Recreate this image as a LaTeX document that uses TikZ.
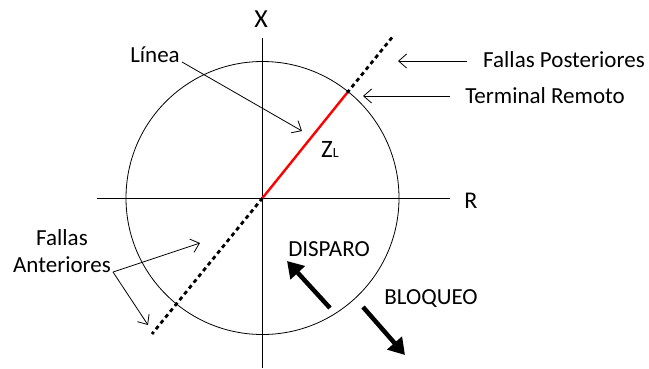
\documentclass[tikz,border=0pt]{standalone}
\usepackage{fontspec}
\setmainfont{Carlito}
\usetikzlibrary{arrows.meta}
\begin{document}
\begin{tikzpicture}[x=1pt,y=-1pt,
  lbl/.style={font=\fontsize{23}{27}\selectfont, inner sep=0pt, anchor=base},
  axlbl/.style={font=\fontsize{26}{30}\selectfont, inner sep=0pt, anchor=base},
  thin/.style={line width=0.8pt},
  pointer/.style={line width=0.8pt,-{Straight Barb[length=8pt,width=14pt]}},
  bigarrow/.style={line width=4.5pt,-{Triangle[length=16pt,width=19pt]}},
  dotline/.style={line width=2.8pt,dash pattern=on 4pt off 3.5pt}]
\useasboundingbox (0,0) rectangle (649,368);
% circle
\draw[thin] (262.5,198) circle [radius=136.5];
% axes
\coordinate (xtop) at (262.5,38);
\coordinate (xbot) at (262.5,368);
\coordinate (rl) at (97,198);
\coordinate (rr) at (450,198);
\coordinate (o) at (262.5,198);
\draw[thin] (xtop) -- (xbot);
\draw[thin] (rl) -- (rr);
\node[axlbl] (X) at (261,27) {X};
\node[lbl, font=\fontsize{24}{28}\selectfont] (R) at (471,208) {R};
% line
\coordinate (term) at (347,93);
\coordinate (ext) at (394,35);
\coordinate (back) at (152,334);
\draw[dotline] (term) -- (ext);
\draw[dotline] (o) -- (back);
\draw[red, line width=2.4pt] (o) -- (term);
\node[lbl, anchor=base west, font=\fontsize{25}{29}\selectfont] (ZL) at (321,157) {Z\raisebox{-0.5pt}{\fontsize{14}{16}\selectfont L}};
% labels
\node[lbl] (linea) at (155,62) {Línea};
\coordinate (lineaS) at (182,62);
\coordinate (lineaE) at (302,131);
\draw[pointer] (lineaS) -- (lineaE);
\node[lbl] (fp) at (564,67) {Fallas Posteriores};
\coordinate (fpS) at (467,61);
\coordinate (fpE) at (398,61);
\draw[pointer] (fpS) -- (fpE);
\node[lbl] (tr) at (545,103) {Terminal Remoto};
\coordinate (trS) at (450,96);
\coordinate (trE) at (363,96);
\draw[pointer] (trS) -- (trE);
\node[lbl] (fa1) at (62,245) {Fallas};
\node[lbl] (fa2) at (62,272) {Anteriores};
\coordinate (faS) at (113,272);
\coordinate (faE1) at (200,243);
\coordinate (faE2) at (148,325);
\draw[pointer] (faS) -- (faE1);
\draw[pointer] (faS) -- (faE2);
% disparo / bloqueo
\node[lbl] (disp) at (329,256) {DISPARO};
\node[lbl] (bloq) at (431,304) {BLOQUEO};
\coordinate (dS) at (330,308);
\coordinate (dE) at (287,261);
\coordinate (bS) at (363,307);
\coordinate (bE) at (405,355);
\draw[bigarrow] (dS) -- (dE);
\draw[bigarrow] (bS) -- (bE);
\end{tikzpicture}
\end{document}
